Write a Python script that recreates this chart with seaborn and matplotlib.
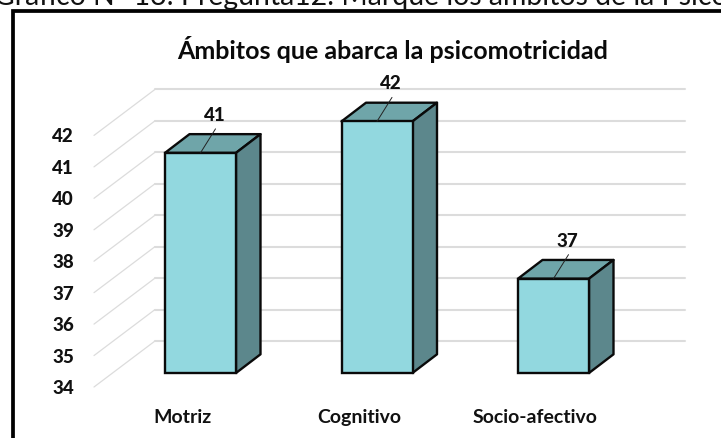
import numpy as np
import pandas as pd
import matplotlib
matplotlib.use("Agg")
import matplotlib.pyplot as plt
from matplotlib.lines import Line2D
import seaborn as sns

sns.set_theme(style="white")
plt.rcParams['font.family'] = ['Lato', 'DejaVu Sans']

# Data
categories = ["Motriz", "Cognitivo", "Socio-afectivo"]
values = [41, 42, 37]
ticks = [34, 35, 36, 37, 38, 39, 40, 41, 42]
title = "Ámbitos que abarca la psicomotricidad"
caption = "Gráfico N° 13: Pregunta12: Marque los ámbitos de la Psico"

FRONT = "#92D8DF"
TOP = "#6FA5A9"
SIDE = "#5C878C"
GRID = "#DCDCDC"
BASE = 34
W, H = 721, 438

# pixel <-> data scale of the picture
PX_X = 176.5
PX_Y = 31.45
def dx(px):
    return px / PX_X
def dy(px):
    return px / PX_Y

df = pd.DataFrame({"cat": categories, "h": np.array(values) - BASE})

fig = plt.figure(figsize=(W / 100, H / 100), dpi=100)
ax = fig.add_axes([0, 0, 1, 1])

# Bars
BAR_W = 71 / PX_X
sns.barplot(data=df, x="cat", y="h", bottom=BASE, color=FRONT, saturation=1,
            width=BAR_W, edgecolor="#0a0a0a", linewidth=1.7, zorder=5, ax=ax)
ax.set_xlim(-200.5 / PX_X, (W - 200.5) / PX_X)
ax.set_ylim(BASE - dy(H - 373), BASE + dy(373))
ax.axis("off")

# Floor and back wall grid
for t in ticks:
    back_y = t + dy(32)
    ax.plot([dx(94 - 200.5), dx(155 - 200.5)], [t - dy(14), back_y], color=GRID, lw=0.9, zorder=1)
    ax.plot([dx(155 - 200.5), dx(685 - 200.5)], [back_y, back_y], color=GRID, lw=1.5, zorder=1)
    ax.text(dx(74 - 200.5), t - dy(15.5), str(t), ha="right", va="center",
            fontsize=13.5, fontweight="black", color="#111111")

# Depth faces
DX, DY = dx(24.5), dy(18.7)
for i, v in enumerate(values):
    l, r = i - BAR_W / 2, i + BAR_W / 2
    ax.fill([l, r, r + DX, l + DX], [v, v, v + DY, v + DY], facecolor=TOP,
            edgecolor="#0a0a0a", lw=1.7, zorder=4, joinstyle="round")
    ax.fill([r, r + DX, r + DX, r], [BASE, BASE + DY, v + DY, v], facecolor=SIDE,
            edgecolor="#0a0a0a", lw=1.7, zorder=4, joinstyle="round")
    # Leader and value label
    ax.plot([i, i + dx(15)], [v, v + dy(24)], color="#222222", lw=0.7, zorder=6)
    ax.text(i + dx(14), v + dy(37.5), str(v), ha="center", va="center",
            fontsize=13.5, fontweight="black", color="#111111", zorder=7)
    ax.text(i - dx(18), BASE - dy(44), categories[i], ha="center", va="center",
            fontsize=14, fontweight="bold", color="#111111")

ax.text(dx(392.5 - 200.5), BASE + dy(373 - 50), title, ha="center", va="center",
        fontsize=18, fontweight="bold", color="#0a0a0a")

# Text above the frame, cut by the image edge
fig.text(-0.008, 1 - 4.5 / H, caption, ha="left", va="baseline", fontsize=20.4, color="#111111")

# Frame
fig.add_artist(Line2D([13.3 / W, 13.3 / W, 1], [0, 1 - 11 / H, 1 - 11 / H], color="black", lw=2.7,
                      solid_joinstyle="miter"))

fig.savefig("out.png", dpi=100)
